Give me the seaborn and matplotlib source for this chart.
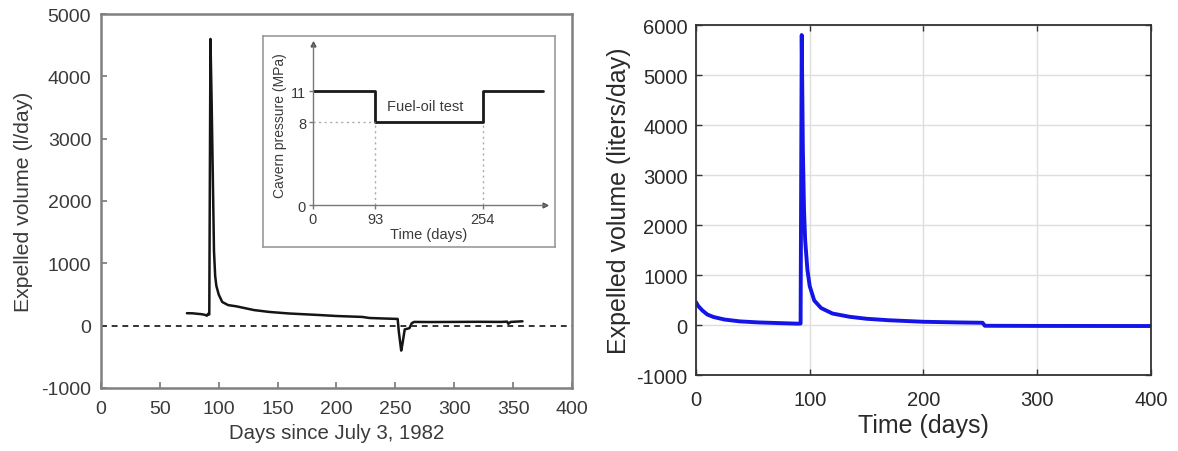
import numpy as np
import pandas as pd
import matplotlib
matplotlib.use('Agg')
import matplotlib.pyplot as plt
import seaborn as sns

obs_days = [73, 78, 82, 85, 88, 90, 91, 92, 93, 94, 95, 96, 97, 98, 100, 103, 108,
            115, 130, 143, 160, 186, 200, 222, 228, 240, 252, 253, 255, 256, 258,
            260, 262, 264, 266, 280, 300, 320, 340, 345, 346, 348, 358]
obs_volume = [200, 198, 190, 185, 175, 160, 190, 180, 4600, 3600, 2400, 1200, 800,
              640, 500, 380, 330, 310, 250, 220, 195, 170, 155, 140, 123, 115, 108,
              -100, -400, -300, -60, -50, -40, 40, 60, 58, 60, 62, 60, 65, 30, 60, 70]

# Computed curve (right panel)
sim_days = [0, 2, 5.6, 10, 15.5, 25, 38.5, 55, 71.5, 89.6, 92, 93, 94, 95, 96,
            98, 100, 104, 110, 120, 135, 150, 170, 200, 230, 252, 254, 300, 400]
sim_volume = [458, 380, 292, 210, 160, 110, 73, 52, 40, 27, 30, 5800, 3500, 2300,
              1700, 1100, 780, 490, 340, 230, 165, 125, 95, 65, 52, 45, -15, -18, -20]

# Inset: pressure schedule
step_days = [0, 93, 254, 344]
step_pressure = [11, 8, 11, 11]
inset_xticks = [0, 93, 254]
inset_yticks = [0, 8, 11]

left_xticks = np.arange(0, 401, 50)
left_yticks = np.arange(-1000, 5001, 1000)
right_xticks = np.arange(0, 401, 100)
right_yticks = np.arange(-1000, 6001, 1000)

sns.set_theme(style="white")
plt.rcParams['font.family'] = ['Liberation Sans', 'DejaVu Sans']
plt.rcParams['axes.unicode_minus'] = False
text_col = '#3a3a3a'

fig = plt.figure(figsize=(11.78, 4.52), dpi=100)

# ---- left panel
ax1 = fig.add_axes([0.0857, 0.1394, 0.3998, 0.8274])
sns.lineplot(x=obs_days, y=obs_volume, ax=ax1, color='#151515', lw=1.8)
ax1.axhline(0, color='#333333', lw=1.4, ls=(0, (3, 2.5)))
ax1.set_xlim(0, 400)
ax1.set_ylim(-1000, 5000)
ax1.set_xticks(left_xticks)
ax1.set_yticks(left_yticks)
ax1.tick_params(direction='in', length=4, width=1.2, color='#777777',
                labelsize=14, labelcolor=text_col, bottom=True, left=True)
ax1.tick_params(axis='x', pad=9)
ax1.tick_params(axis='y', pad=7)
for s in ax1.spines.values():
    s.set_color('#808080')
    s.set_linewidth(1.8)
ax1.set_xlabel('Days since July 3, 1982', fontsize=14.7, color=text_col, labelpad=4)
ax1.set_ylabel('Expelled volume (l/day)', fontsize=15.3, color=text_col, labelpad=6)

# inset frame
axf = fig.add_axes([0.2233, 0.4513, 0.2479, 0.4668])
axf.set_xticks([])
axf.set_yticks([])
for s in axf.spines.values():
    s.set_color('#9a9a9a')
    s.set_linewidth(1.2)

# inset axes
ax3 = fig.add_axes([0.2657, 0.5442, 0.1969, 0.3562])
ax3.patch.set_alpha(0)
sns.lineplot(x=step_days, y=step_pressure, ax=ax3, color='#1a1a1a', lw=2,
             drawstyle='steps-post')
dot = dict(color='#aaaaaa', lw=1, ls=(0, (1.5, 2.5)))
ax3.plot([0, 93], [8, 8], **dot)
ax3.plot([93, 93], [0, 8], **dot)
ax3.plot([254, 254], [0, 8], **dot)
ax3.set_xlim(0, 347)
ax3.set_ylim(0, 15.6)
ax3.set_xticks(inset_xticks)
ax3.set_yticks(inset_yticks)
ax3.tick_params(direction='out', length=3, width=1, color='#777777',
                labelsize=10.5, labelcolor=text_col, bottom=True, left=True, pad=2)
for k in ['top', 'right']:
    ax3.spines[k].set_visible(False)
for k in ['left', 'bottom']:
    ax3.spines[k].set_color('#777777')
    ax3.spines[k].set_linewidth(1)
ax3.plot(1, 0, '>', color='#555555', ms=3.5, transform=ax3.transAxes, clip_on=False)
ax3.plot(0, 1, '^', color='#555555', ms=3.5, transform=ax3.transAxes, clip_on=False)
ax3.text(168, 8.9, 'Fuel-oil test', fontsize=10.5, color=text_col, ha='center', va='bottom')
ax3.set_xlabel('Time (days)', fontsize=10.5, color=text_col, labelpad=1)
ax3.set_ylabel('Cavern pressure (MPa)', fontsize=10, color=text_col, labelpad=3)

# ---- right panel
ax2 = fig.add_axes([0.5908, 0.1681, 0.3862, 0.7743])
sns.lineplot(x=sim_days, y=sim_volume, ax=ax2, color='#1414e6', lw=2.8)
ax2.set_xlim(0, 400)
ax2.set_ylim(-1000, 6000)
ax2.set_xticks(right_xticks)
ax2.set_yticks(right_yticks)
ax2.grid(True, color='#dedede', lw=1)
ax2.tick_params(direction='in', length=4, width=1, color='#333333',
                labelsize=14.5, labelcolor='#2a2a2a',
                bottom=True, left=True, top=True, right=True)
ax2.tick_params(axis='x', pad=11)
ax2.tick_params(axis='y', pad=6)
for s in ax2.spines.values():
    s.set_color('#333333')
    s.set_linewidth(1.3)
ax2.set_xlabel('Time (days)', fontsize=18, color='#2a2a2a', labelpad=3)
ax2.set_ylabel('Expelled volume (liters/day)', fontsize=18, color='#2a2a2a', labelpad=4)

fig.savefig('out.png', dpi=100)
